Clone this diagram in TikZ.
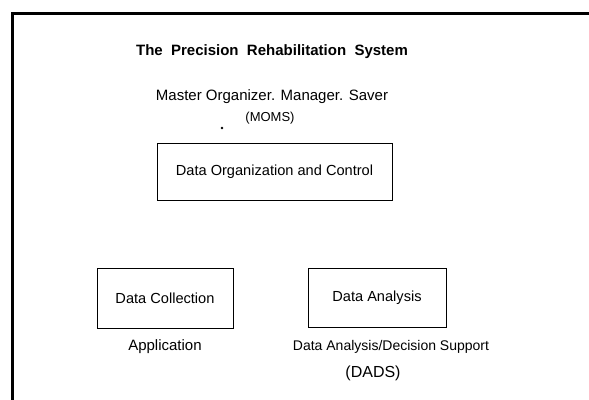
\documentclass[tikz,border=0pt]{standalone}
\usepackage{fontspec}
\setmainfont{Liberation Sans}
\begin{document}
\begin{tikzpicture}[x=1pt,y=-1pt,
  box/.style={draw,line width=1pt,minimum width=#1,minimum height=58pt,inner sep=0pt,font=\fontsize{14.6}{16}\selectfont},
  lbl/.style={inner sep=0pt,font=\fontsize{15}{17}\selectfont},
  frame/.style={line width=3pt}]
\useasboundingbox (0,0) rectangle (589,399);
\draw[frame] (12,410) -- (12,13) -- (600,13);
\node[lbl,font=\bfseries\fontsize{15}{17}\selectfont] (title) at (272,52) {The\ \ Precision\ \ Rehabilitation\ \ System};
\node[lbl] (moms) at (272,97) {Master Organizer. Manager. Saver};
\node[lbl,font=\fontsize{13}{15}\selectfont] (momsab) at (270,118) {(MOMS)};
\fill (222,128) circle (1.3pt);
\node[box=235pt,minimum height=57pt] (doc) at (274.5,171.5) {Data Organization and Control};
\node[box=136pt,minimum height=60pt] (dc) at (165,298) {Data Collection};
\node[box=138pt,minimum height=59pt] (da) at (377,297.5) {Data Analysis};
\node[lbl] (app) at (165,347) {Application};
\node[lbl,font=\fontsize{14}{16}\selectfont] (dads) at (391,347) {Data Analysis/Decision Support};
\node[lbl,font=\fontsize{16}{18}\selectfont] (dadsab) at (373,373) {(DADS)};
\end{tikzpicture}
\end{document}
